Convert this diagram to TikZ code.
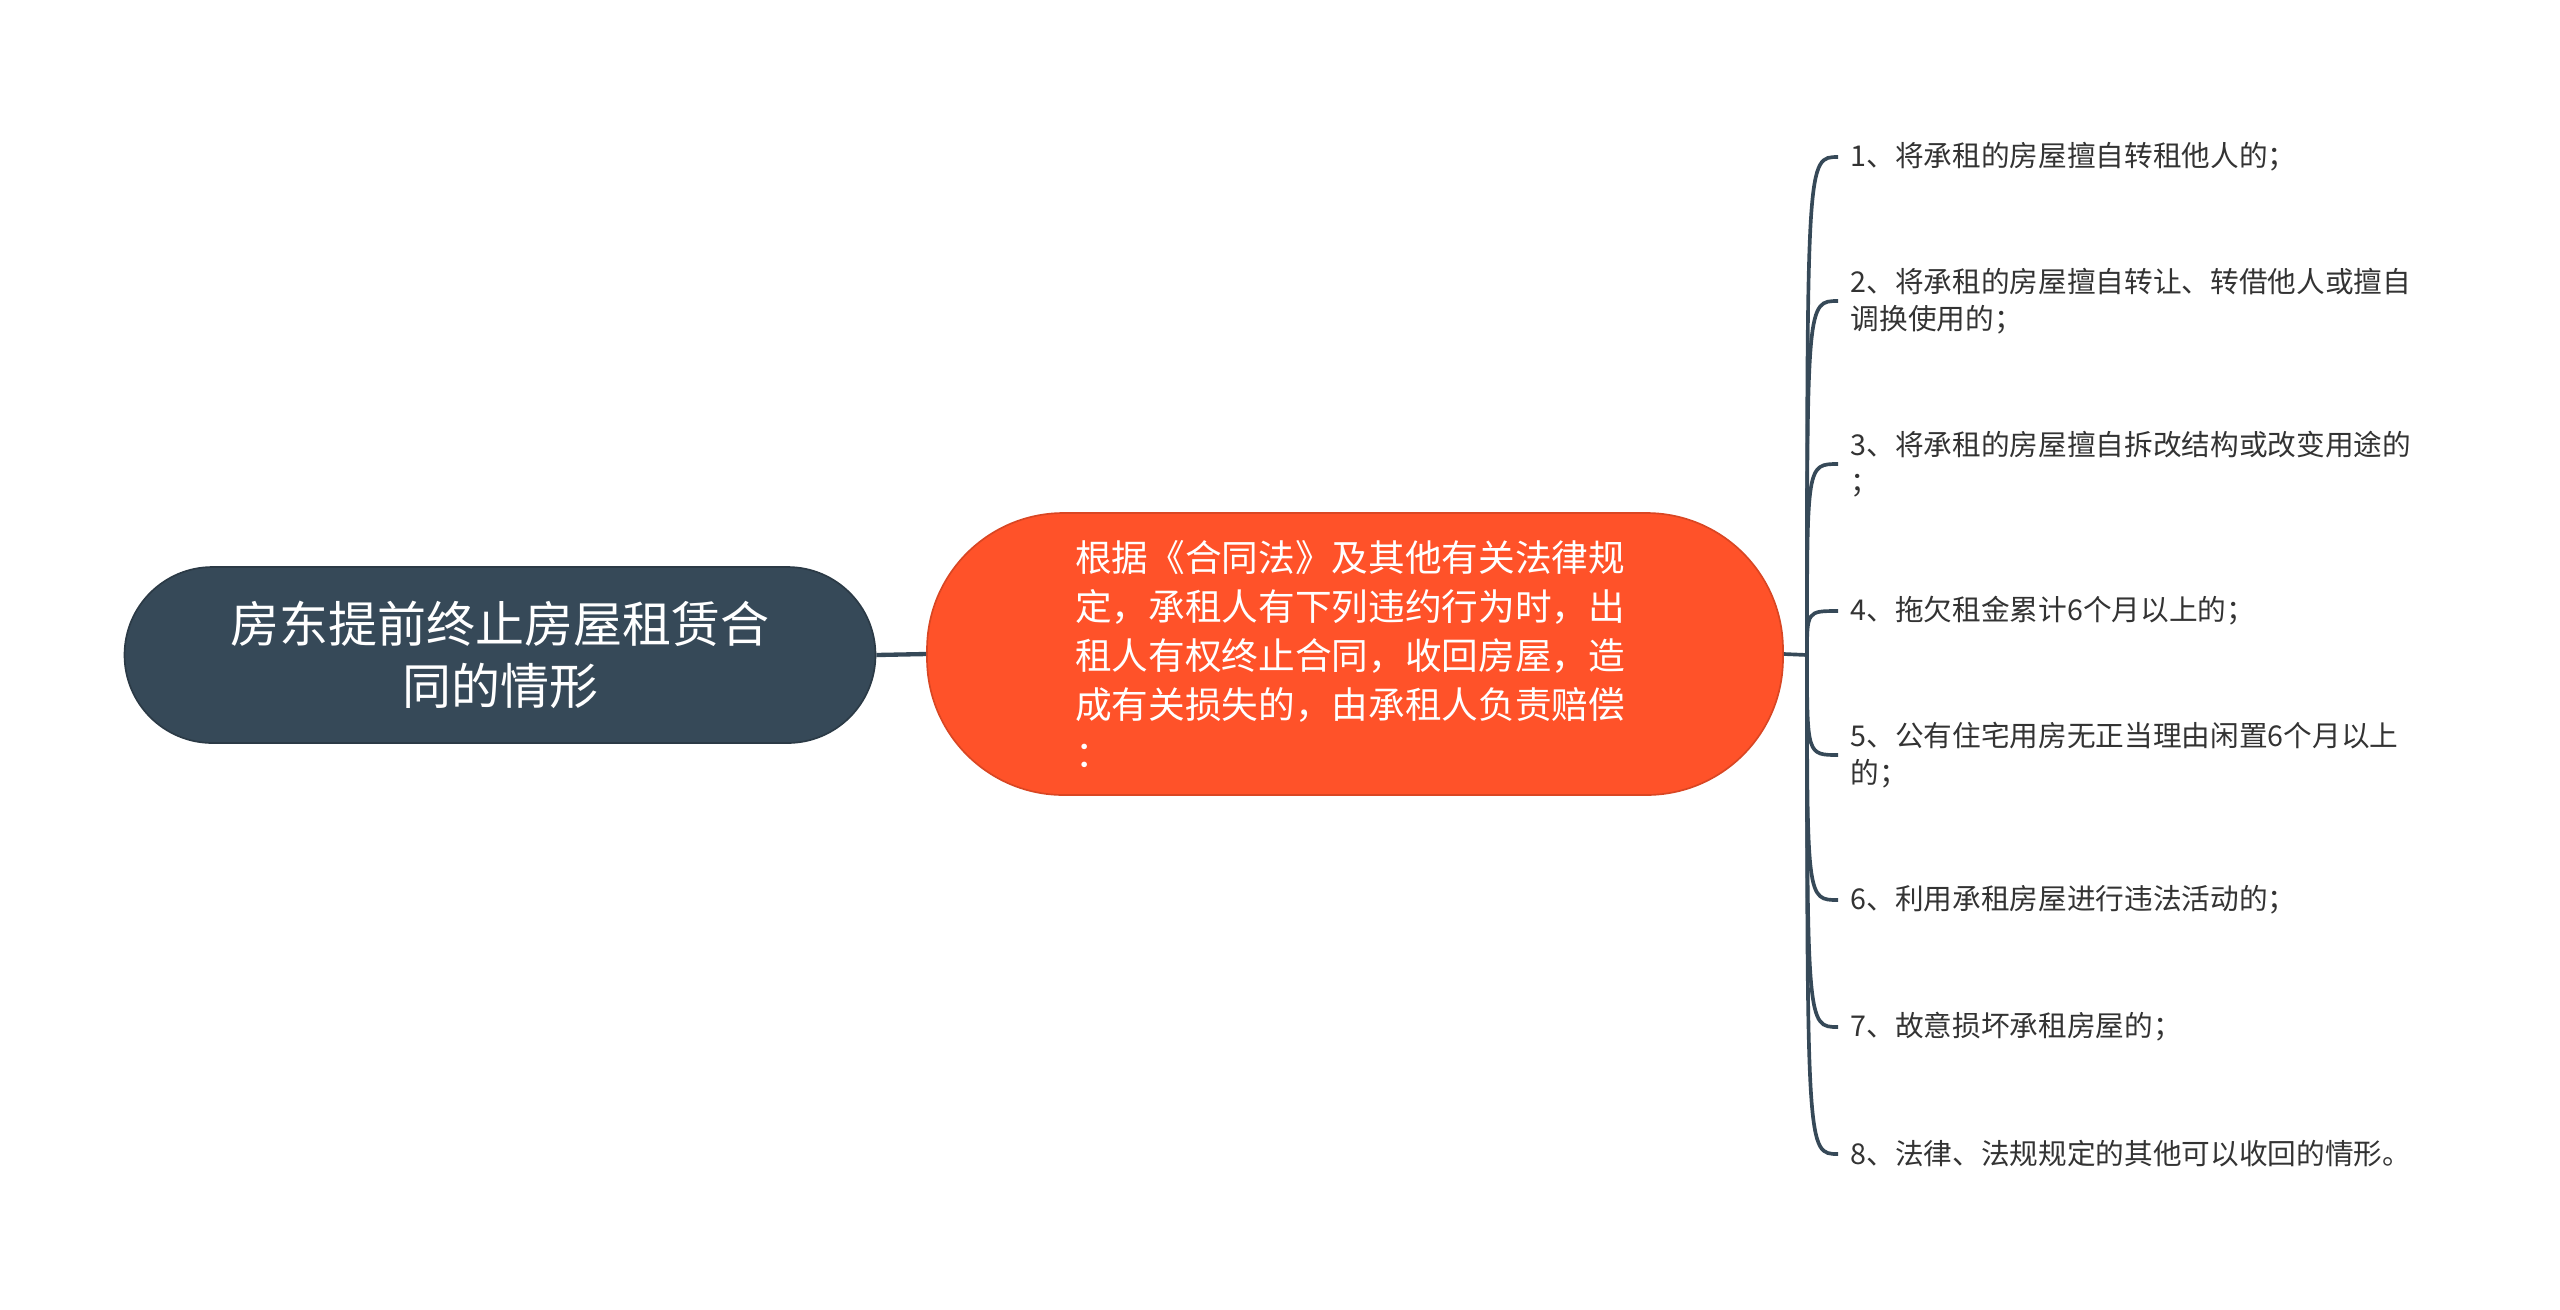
\documentclass[tikz,border=0pt]{standalone}
\usepackage{fontspec}
\setmainfont{Noto Sans CJK SC}
\usetikzlibrary{positioning, calc}
\definecolor{cR}{RGB}{54,73,88}
\definecolor{cM}{RGB}{255,82,41}
\definecolor{cT}{RGB}{51,51,51}

\begin{document}
\begin{tikzpicture}[x=0.3pt, y=-0.3pt,
    root/.style={fill=cR, draw=cR!80!black, line width=0.5pt, rounded corners=26.4pt,
                 minimum width=225.3pt, minimum height=52.8pt, text=white, align=center,
                 font=\fontsize{14.7}{18.6}\selectfont},
    main/.style={fill=cM, draw=cM!85!black, line width=0.5pt, rounded corners=41pt,
                 minimum width=256.8pt, minimum height=84.6pt, text=white, align=left,
                 font=\fontsize{11}{14.7}\selectfont},
    leaf/.style={anchor=west, inner xsep=3.6pt, inner ysep=0pt, align=left, text=cT,
                 font=\fontsize{8.6}{11.3}\selectfont},
    link/.style={draw=cR, line width=1.1pt}]

    \useasboundingbox (0,0) rectangle (2560,1309);

    % Topics
    \node[root] (R) at (500,655) {房东提前终止房屋租赁合\\同的情形};
    \node[main] (M) at (1355,654) {\hspace*{-3pt}根据《合同法》及其他有关法律规\\\hspace*{-3pt}定，承租人有下列违约行为时，出\\\hspace*{-3pt}租人有权终止合同，收回房屋，造\\\hspace*{-3pt}成有关损失的，由承租人负责赔偿\\\hspace*{-3pt}：};
    \coordinate (J) at (1807,655);

    % Subtopics
    \node[leaf] (L1) at (1838,157) {1、将承租的房屋擅自转租他人的；};
    \node[leaf] (L2) at (1838,301) {2、将承租的房屋擅自转让、转借他人或擅自\\调换使用的；};
    \node[leaf] (L3) at (1838,464) {3、将承租的房屋擅自拆改结构或改变用途的\\；};
    \node[leaf] (L4) at (1838,611) {4、拖欠租金累计6个月以上的；};
    \node[leaf] (L5) at (1838,755) {5、公有住宅用房无正当理由闲置6个月以上\\的；};
    \node[leaf] (L6) at (1838,900) {6、利用承租房屋进行违法活动的；};
    \node[leaf] (L7) at (1838,1027) {7、故意损坏承租房屋的；};
    \node[leaf] (L8) at (1838,1154) {8、法律、法规规定的其他可以收回的情形。};

    % Links
    \draw[link, line width=1.3pt] (R.east) -- (M.west);
    \draw[link] (M.east) -- (J);
    \foreach \i in {1,...,8}
        \draw[link] (J) .. controls (J |- L\i.west) .. (L\i.west);

\end{tikzpicture}
\end{document}
